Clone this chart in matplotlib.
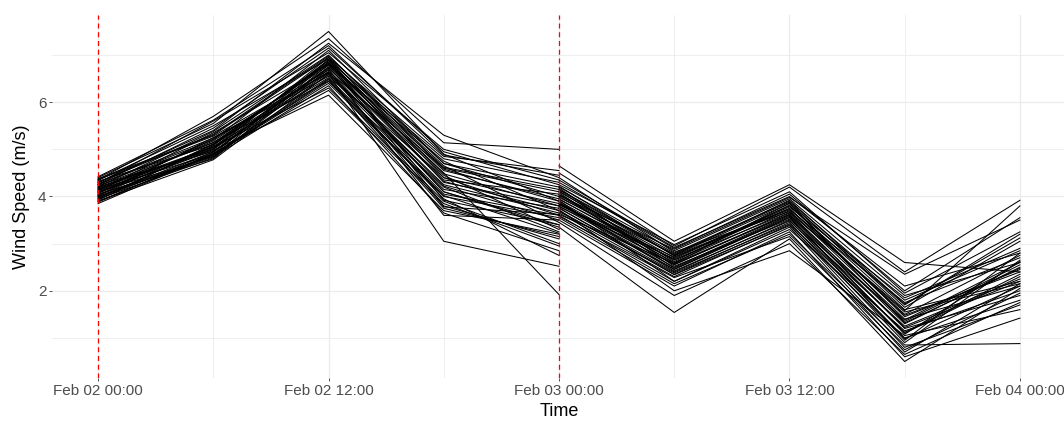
import numpy as np
import pandas as pd
import matplotlib
matplotlib.use("Agg")
import matplotlib.pyplot as plt
import matplotlib.dates as mdates

plt.rcParams['font.family'] = ['Liberation Sans', 'DejaVu Sans']

# forecast runs (init time) and lead times in hours
run_starts = ["2024-02-02 00:00", "2024-02-03 00:00"]
lead_hours = [0, 6, 12, 18, 24]

# ensemble members, run 1: wind speed (m/s) at each lead time
run1 = [
    [4.40, 5.55, 7.50, 4.90, 3.90],
    [4.35, 5.70, 7.35, 5.14, 5.00],
    [4.30, 5.40, 7.25, 5.30, 4.40],
    [4.25, 5.20, 7.10, 4.70, 4.20],
    [4.20, 5.00, 6.95, 4.40, 3.60],
    [4.15, 4.90, 6.90, 4.30, 3.80],
    [4.10, 4.85, 6.85, 3.80, 3.10],
    [4.05, 4.80, 6.80, 4.50, 1.92],
    [4.00, 4.95, 6.75, 4.10, 3.40],
    [3.95, 4.82, 6.70, 3.60, 3.50],
    [3.90, 4.78, 6.60, 3.05, 2.52],
    [3.85, 4.90, 6.50, 3.95, 2.75],
    [4.38, 5.30, 6.95, 4.85, 4.55],
    [4.32, 5.10, 6.65, 4.60, 4.10],
    [4.28, 5.60, 7.05, 5.00, 4.35],
    [4.22, 5.15, 6.45, 4.20, 3.25],
    [4.18, 5.05, 6.30, 3.90, 3.00],
    [4.12, 5.35, 6.80, 4.75, 3.70],
    [4.08, 4.98, 6.15, 3.70, 3.20],
    [4.02, 5.25, 6.55, 4.40, 3.85],
    [3.98, 4.88, 6.40, 4.00, 3.55],
    [3.92, 5.12, 6.85, 4.55, 3.95],
    [3.88, 4.92, 6.25, 3.85, 2.95],
    [4.26, 5.45, 7.15, 4.95, 4.25],
    [4.16, 5.02, 6.72, 4.45, 3.30],
    [4.06, 5.22, 6.62, 4.25, 3.65],
    [4.34, 5.50, 6.92, 4.65, 3.45],
    [4.24, 4.96, 6.58, 4.15, 3.75],
    [4.14, 5.18, 6.78, 4.35, 4.05],
    [4.04, 4.86, 6.48, 3.75, 3.15],
    [3.96, 5.08, 6.88, 4.80, 4.30],
    [4.36, 5.28, 6.68, 4.10, 3.35],
    [4.20, 5.38, 7.00, 4.58, 3.90],
    [4.10, 5.06, 6.52, 4.05, 3.60],
    [4.00, 4.84, 6.35, 3.65, 2.85],
    [4.30, 5.32, 6.98, 4.70, 4.00],
    [4.18, 5.14, 6.82, 4.48, 3.80],
    [4.08, 5.00, 6.62, 4.22, 3.50],
    [3.94, 4.94, 6.74, 4.32, 3.70],
    [4.42, 5.62, 7.20, 4.88, 4.45],
    [4.12, 5.04, 6.90, 3.92, 3.40],
    [4.26, 5.24, 6.64, 3.78, 3.62],
    [3.90, 4.90, 6.44, 4.02, 3.22],
    [4.02, 5.10, 6.84, 4.62, 4.15],
]

# ensemble members, run 2
run2 = [
    [4.65, 3.05, 4.25, 2.60, 2.40],
    [4.50, 2.95, 4.20, 2.40, 3.92],
    [4.30, 2.90, 4.05, 2.00, 3.55],
    [4.20, 2.85, 3.95, 1.90, 2.60],
    [4.15, 2.80, 3.90, 1.80, 2.85],
    [4.10, 2.75, 3.85, 1.70, 3.20],
    [4.05, 2.70, 3.80, 1.60, 2.20],
    [4.00, 2.65, 3.75, 1.50, 2.75],
    [3.95, 2.60, 3.70, 1.40, 2.10],
    [3.90, 2.55, 3.65, 1.30, 2.50],
    [3.85, 2.50, 3.60, 1.20, 1.90],
    [3.80, 2.45, 3.55, 1.10, 2.30],
    [3.75, 2.40, 3.50, 1.00, 1.80],
    [3.70, 2.35, 3.45, 0.90, 2.65],
    [3.65, 2.30, 3.40, 0.80, 1.70],
    [3.60, 2.20, 3.35, 0.70, 2.15],
    [3.50, 2.10, 3.25, 0.60, 1.42],
    [3.35, 1.54, 3.10, 0.50, 2.05],
    [4.25, 2.98, 4.10, 1.95, 3.25],
    [4.12, 2.62, 3.82, 1.45, 2.45],
    [4.02, 2.88, 3.98, 2.35, 3.50],
    [3.92, 2.20, 3.30, 1.15, 2.00],
    [3.82, 2.72, 3.72, 1.75, 2.70],
    [3.72, 2.00, 2.85, 1.05, 1.60],
    [3.62, 2.58, 3.62, 1.35, 2.55],
    [4.08, 2.48, 3.58, 0.95, 2.80],
    [3.98, 2.78, 3.88, 1.65, 3.05],
    [3.88, 2.42, 3.48, 1.25, 2.25],
    [3.78, 2.68, 3.78, 1.85, 2.90],
    [4.40, 2.82, 3.68, 1.55, 2.15],
    [3.55, 2.15, 3.20, 0.85, 0.88],
    [4.18, 2.52, 3.52, 1.38, 2.60],
    [3.68, 2.38, 3.42, 1.12, 2.35],
    [3.58, 2.28, 3.15, 0.75, 1.95],
    [4.35, 2.92, 4.00, 2.10, 2.80],
    [3.45, 1.90, 3.00, 0.65, 1.75],
    [4.22, 2.74, 3.74, 1.48, 2.40],
    [3.86, 2.56, 3.62, 1.22, 2.20],
    [3.76, 2.34, 3.38, 0.98, 2.10],
    [3.94, 2.66, 3.66, 1.58, 3.80],
    [4.04, 2.58, 3.86, 1.32, 2.48],
    [3.84, 2.46, 3.56, 1.08, 2.62],
    [4.14, 2.76, 3.92, 1.72, 3.12],
]

fig = plt.figure(figsize=(10.64, 4.21), dpi=100)
ax = fig.add_axes([52 / 1064, 43 / 421, 1014 / 1064, 363 / 421])

for start, members in zip(run_starts, [run1, run2]):
    times = pd.Timestamp(start) + pd.to_timedelta(lead_hours, unit="h")
    for m in members:
        ax.plot(times, m, color="black", lw=0.75, zorder=3)
    ax.axvline(pd.Timestamp(start), color="red", ls=(0, (4, 3)), lw=0.9, zorder=4)

t0 = pd.Timestamp(run_starts[0])
ax.set_xlim(t0 - pd.Timedelta(hours=2.4), t0 + pd.Timedelta(hours=50.4))
ax.set_ylim(0.15, 7.85)

ax.xaxis.set_major_locator(mdates.HourLocator(byhour=[0, 12]))
ax.xaxis.set_minor_locator(mdates.HourLocator(byhour=[6, 18]))
ax.xaxis.set_major_formatter(mdates.DateFormatter("%b %d %H:%M"))
ax.set_yticks([2, 4, 6])
ax.set_yticks([1, 3, 5, 7], minor=True)

ax.grid(which="major", color="#EBEBEB", lw=0.9, zorder=0)
ax.grid(which="minor", color="#EBEBEB", lw=0.6, zorder=0)
for s in ax.spines.values():
    s.set_visible(False)

ax.tick_params(axis="both", which="major", labelsize=11, labelcolor="#4D4D4D",
               color="#333333", length=2.5, width=0.6)
ax.tick_params(axis="x", which="major", pad=1.5)
ax.tick_params(axis="y", which="major", pad=1.5)
ax.tick_params(axis="both", which="minor", length=0)

ax.set_xlabel("Time", fontsize=13, labelpad=4)
ax.set_ylabel("Wind Speed (m/s)", fontsize=13, labelpad=6)

fig.savefig("out.png", dpi=100, facecolor="white")
